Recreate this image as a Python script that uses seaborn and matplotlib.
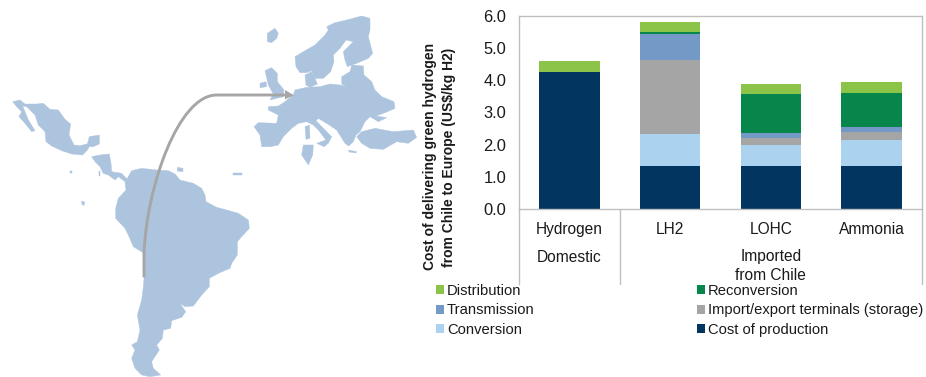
import matplotlib
matplotlib.use("Agg")
import matplotlib.pyplot as plt
from matplotlib.path import Path
from matplotlib.patches import PathPatch, Polygon
import numpy as np
import pandas as pd
import seaborn as sns

categories = ["Hydrogen", "LH2", "LOHC", "Ammonia"]
production = [4.27, 1.33, 1.33, 1.33]
conversion = [0.0, 1.00, 0.66, 0.80]
terminals = [0.0, 2.29, 0.21, 0.25]
transmission = [0.0, 0.83, 0.16, 0.17]
reconversion = [0.0, 0.05, 1.22, 1.07]
distribution = [0.33, 0.32, 0.32, 0.33]
y_ticks = [0, 1, 2, 3, 4, 5, 6]
series_names = ["Cost of production", "Conversion", "Import/export terminals (storage)",
                "Transmission", "Reconversion", "Distribution"]
series_colors = ["#02355F", "#ABD2EF", "#A5A5A5", "#739AC7", "#07864B", "#8CC449"]
legend_order = ["Distribution", "Transmission", "Conversion",
                "Reconversion", "Import/export terminals (storage)", "Cost of production"]
y_title = "Cost of delivering green hydrogen\nfrom Chile to Europe (US$/kg H2)"
group_names = ["Domestic", "Imported\nfrom Chile"]

# Map outlines (traced at 3x pixel scale)
mexico = [(38,305),(60,300),(75,312),(110,312),(130,310),(150,328),(175,330),(195,358),(212,372),(207,405),(222,435),(240,437),(262,432),(268,410),(298,405),(298,432),(280,440),(268,440),(262,450),(248,465),(215,462),(185,452),(155,438),(138,425),(135,395),(115,375),(105,345),(80,320),(68,318),(85,360),(105,392),(95,395),(75,370),(57,350),(65,335),(50,320)]
central_america = [(275,470),(300,465),(328,462),(333,490),(335,515),(365,520),(382,538),(375,545),(355,530),(345,540),(325,525),(310,520),(300,500),(285,485)]
south_america = [(382,535),(395,512),(425,505),(470,510),(505,512),(525,522),(540,540),(580,550),(605,565),(615,585),(618,605),(650,622),(680,630),(715,640),(745,660),(748,685),(725,710),(712,725),(712,765),(695,790),(690,805),(655,820),(628,835),(628,860),(605,885),(580,918),(555,920),(540,910),(557,935),(545,952),(515,962),(512,985),(490,990),(487,1015),(470,1035),(478,1050),(455,1085),(460,1105),(482,1125),(450,1130),(425,1125),(405,1105),(395,1075),(405,1050),(395,1035),(412,1025),(420,990),(412,945),(425,900),(430,860),(435,800),(432,760),(400,740),(385,705),(375,685),(347,655),(347,625),(355,595),(378,570),(375,548)]
europe = [(805,320),(835,318),(855,305),(880,285),(885,270),(920,262),(960,260),(990,252),(1020,255),(1038,260),(1025,252),(1025,230),(1050,215),(1055,195),(1090,198),(1092,225),(1115,245),(1125,270),(1145,290),(1182,305),(1185,325),(1155,338),(1128,348),(1160,353),(1135,365),(1110,350),(1095,365),(1080,395),(1068,405),(1060,425),(1046,438),(1035,430),(1010,390),(980,370),(955,355),(948,362),(975,390),(995,410),(985,430),(972,440),(950,430),(978,420),(955,390),(940,375),(920,365),(895,370),(875,385),(850,410),(835,435),(810,440),(785,440),(780,405),(762,380),(775,368),(830,370),(835,345),(805,330)]
turkey = [(1070,410),(1085,395),(1125,385),(1180,395),(1240,390),(1250,412),(1225,430),(1190,425),(1150,448),(1110,445),(1085,430)]
scandinavia = [(885,170),(910,155),(945,135),(975,105),(985,90),(980,80),(1005,68),(1040,60),(1085,48),(1110,55),(1110,90),(1105,110),(1118,160),(1105,175),(1070,190),(1042,200),(1035,180),(1030,155),(1060,125),(1038,120),(1020,145),(1000,165),(1002,185),(992,215),(970,235),(945,235),(935,212),(920,218),(900,218),(888,200)]
denmark = [(915,225),(935,215),(945,235),(952,252),(930,262),(918,255)]
britain = [(795,212),(815,203),(832,220),(832,245),(852,270),(850,290),(810,300),(820,282),(805,255)]
ireland = [(780,250),(798,245),(800,260),(780,263)]
iceland = [(802,100),(825,85),(835,100),(830,115),(815,128),(802,125)]
corsica = [(915,380),(928,375),(930,415),(918,418)]
sardinia = [(910,435),(940,435),(938,465),(925,495),(905,465)]
crete = [(1045,450),(1070,455),(1068,459),(1048,456)]
islet_a = [(210,512),(215,512),(215,519),(210,519)]
islet_b = [(296,514),(301,514),(301,528),(296,528)]
islet_c = [(245,603),(254,606),(252,616),(246,614)]
islet_d = [(700,518),(726,518),(726,524),(700,524)]
islet_e = [(532,502),(549,505),(549,515),(532,513)]
land = [mexico, central_america, south_america, europe, turkey, scandinavia, denmark,
        britain, ireland, iceland, corsica, sardinia, crete, islet_a, islet_b, islet_c,
        islet_d, islet_e]
route = [(432,832),(432,760),(440,560),(535,285),(650,285),(855,285)]
route_head = [(855,270),(882,286),(855,298)]

sns.set_theme(style="white")
plt.rcParams["font.family"] = ["Liberation Sans", "DejaVu Sans"]
W, H = 926, 377
fig = plt.figure(figsize=(W / 100, H / 100), dpi=100, facecolor="white")

# ---- map layer, in picture pixels
m = fig.add_axes([0, 0, 1, 1], zorder=0)
m.set_xlim(0, W); m.set_ylim(H, 0); m.axis("off")
land_color = "#ADC4DE"
for poly in land:
    m.add_patch(Polygon(np.array(poly) / 3, closed=True, fc=land_color, ec=land_color, lw=0.3))
pts = np.array(route) / 3
codes = [Path.MOVETO, Path.LINETO, Path.CURVE4, Path.CURVE4, Path.CURVE4, Path.LINETO]
m.add_patch(PathPatch(Path(pts, codes), fc="none", ec="#A6A6A6", lw=2.1))
m.add_patch(Polygon(np.array(route_head) / 3, closed=True, fc="#A6A6A6", ec="none"))

# ---- chart
ax = fig.add_axes([519 / W, 1 - 209 / H, 403 / W, 193 / H], zorder=1)
ax.patch.set_alpha(0)
values = [production, conversion, terminals, transmission, reconversion, distribution]
bottom = np.zeros(len(categories))
for name, vals, col in zip(series_names, values, series_colors):
    df = pd.DataFrame({"cat": categories, "val": vals})
    sns.barplot(data=df, x="cat", y="val", ax=ax, color=col, width=0.6, bottom=bottom,
                saturation=1, label=name, edgecolor="none", linewidth=0, errorbar=None)
    bottom = bottom + np.array(vals)

handles, labels = ax.get_legend_handles_labels()
if ax.get_legend() is not None:
    ax.get_legend().remove()

ax.set_xlim(-0.5, 3.5)
ax.set_ylim(0, 6)
ax.set_yticks(y_ticks)
ax.set_yticklabels([f"{v:.1f}" for v in y_ticks], fontsize=11.9, color="#1a1a1a")
ax.set_xlabel("")
ax.set_ylabel(y_title, fontsize=10.0, fontweight="bold", color="#1a1a1a", linespacing=1.4)
ax.yaxis.set_label_coords(-0.157, 0.27)
ax.tick_params(axis="both", length=0)
ax.tick_params(axis="y", pad=9)
ax.tick_params(axis="x", pad=9.5)
ax.set_xticks(range(len(categories)))
ax.set_xticklabels(categories, fontsize=11.2, color="#1a1a1a")
sep = "#BFBFBF"
for s in ax.spines.values():
    s.set_visible(True); s.set_color(sep); s.set_linewidth(1.0)

trans = ax.get_xaxis_transform()
drop = -75 / 193
for xp in [-0.5, 0.5, 3.5]:
    ax.plot([xp, xp], [0, drop], transform=trans, color=sep, lw=1.0, clip_on=False)
ax.text(0, (209 - 257) / 193, group_names[0], transform=trans, ha="center", va="center",
        fontsize=11.2, color="#1a1a1a")
ax.text(2, (209 - 266) / 193, group_names[1], transform=trans, ha="center", va="center",
        fontsize=11.2, color="#1a1a1a", linespacing=1.25)

lookup = dict(zip(labels, handles))
fig.legend([lookup[n] for n in legend_order], legend_order, ncol=2, frameon=False,
           loc="upper left", bbox_to_anchor=(436 / W, 1 - 284 / H), bbox_transform=fig.transFigure,
           fontsize=10.6, handlelength=0.55, handleheight=0.55, handletextpad=0.2,
           columnspacing=11.0, labelspacing=0.36, borderpad=0, borderaxespad=0,
           labelcolor="#1a1a1a")

fig.savefig("out.png", dpi=100)
